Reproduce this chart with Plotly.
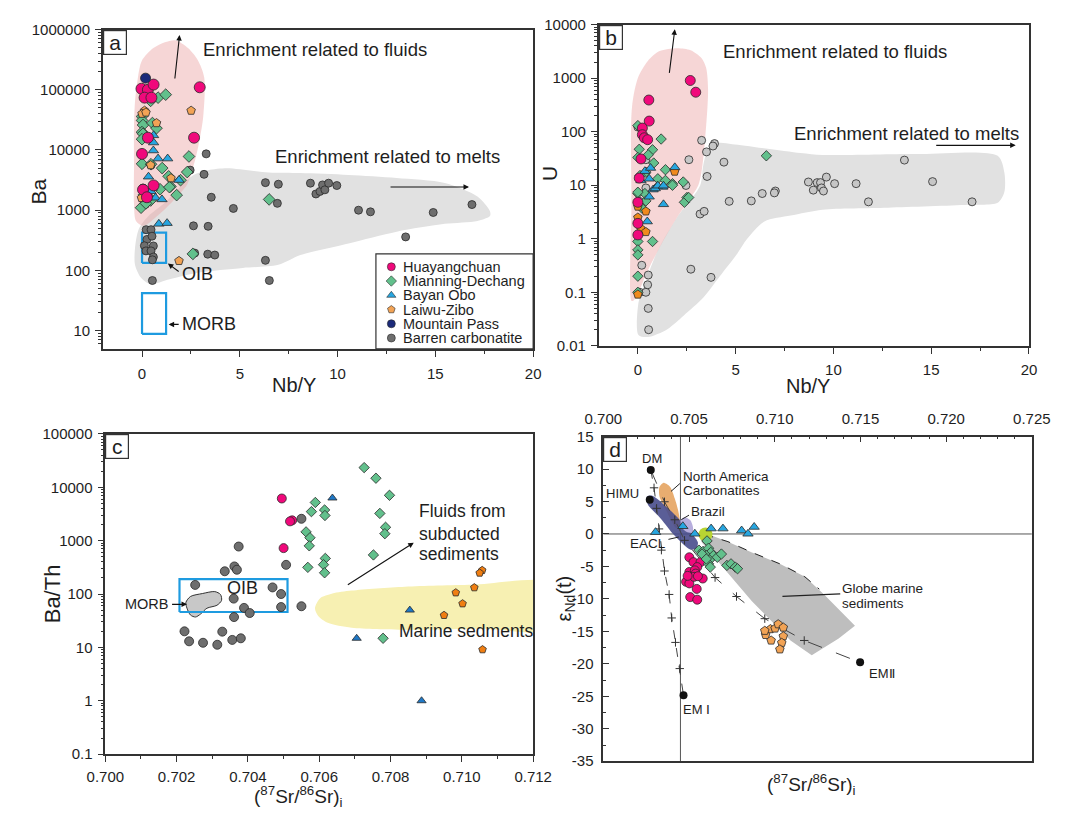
import numpy as np
import plotly.graph_objects as go

W, H = 1075, 814
FONT = "Arial, 'Liberation Sans', sans-serif"
TXT = "#1e1e1e"
AX = "#333333"

# ---------------- categories / legend ----------------
GROUPS = ["Huayangchuan", "Mianning-Dechang", "Bayan Obo", "Laiwu-Zibo",
          "Mountain Pass", "Barren carbonatite"]
SYMBOLS = ["circle", "diamond", "triangle-up", "pentagon", "circle", "circle"]
COLORS = ["#F0097B", "#62C08C", "#27A6E0", "#F2A355", "#1B2A7A", "#6E6E6E"]

# ---------------- panel a : Nb/Y vs Ba ----------------
a_hyc_x = [-0.03, 0.30, 0.59, 0.13, 0.48, 2.95, 0.30, 2.66, 0.00, 0.59, 0.05, 0.25]
a_hyc_y = [104000, 100000, 122000, 74000, 74000, 110000, 16000, 16000, 8600, 2580, 2190, 1640]
a_md_x = [0.44, 0.82, 1.21, 0.0, 0.0, 0.05, 0.0, 0.05, 0.0, 0.53, 0.74, 0.0, 0.46, 1.03,
          2.40, 2.31, 1.36, 1.97, 1.45, 0.92, 1.77, 0.38, 6.50, 2.60, -0.05, 0.44, 1.40, 0.2, 0.1]
a_md_y = [65500, 74000, 83000, 36000, 31000, 26000, 19800, 18600, 15100, 28000, 23000, 5900, 5800, 5000,
          7800, 4300, 3650, 3150, 2480, 2230, 1780, 1610, 1510, 188, 1100, 1450, 2420, 1300, 1800]
a_bo_x = [0.59, 0.59, 0.58, 0.82, 1.31, 0.33, 0.53, 0.69, 1.02, 0.86, 1.28, 0.46, 1.89]
a_bo_y = [17500, 13300, 9800, 7200, 7200, 3600, 2340, 1610, 1510, 593, 610, 2060, 3170]
a_lz_x = [0.13, 0.0, 2.51, 0.74, 0.44, 1.48, -0.03, 1.89, 0.2]
a_lz_y = [45000, 40000, 45000, 28000, 5600, 3400, 1600, 144, 42000]
a_mp_x = [0.18]
a_mp_y = [156000]
a_bar_x = [0.05, 0.46, 2.46, 3.28, 3.17, 3.54, 6.31, 0.17, 4.67, 2.63, 3.38, 2.69, 3.36, 3.72, 6.31,
           6.51, 0.53, 0.21, 0.46, 0.25, 0.51, 0.12, 0.58, 0.2, 0.46, 0.58, 0.53, 6.97, 6.92, 8.61,
           8.89, 9.1, 9.23, 9.35, 9.54, 9.96, 11.07, 11.68, 13.48, 14.89, 16.87]
a_bar_y = [2340, 5600, 4630, 8620, 3940, 1640, 2870, 1250, 1070, 550, 540, 194, 186, 180, 147,
           68, 68, 475, 475, 327, 370, 257, 255, 211, 211, 167, 150, 2700, 1300, 2810,
           1860, 2050, 2630, 2180, 2810, 2570, 1000, 940, 360, 917, 1240]
a_fluid_x = [1.71, 2.35, 2.84, 3.18, 3.13, 2.88, 2.64, 2.30, 1.56, 0.72, 0.08, -0.31, -0.41, -0.41,
             -0.41, -0.36, -0.21, -0.01, 0.58, 1.17, 1.71]
a_fluid_y = [663000, 492000, 314000, 160000, 36000, 11700, 5570, 2640, 1400, 771, 551, 664, 1250, 5570,
             24800, 63000, 160000, 303000, 492000, 615000, 663000]
a_melt_x = [2.63, 1.81, 1.07, 0.33, -0.16, -0.36, -0.36, -0.06, 0.43, 1.41, 2.89, 5.15, 6.97, 8.10,
            10.56, 13.02, 15.48, 17.15, 17.79, 17.79, 17.15, 15.48, 13.02, 10.56, 8.10, 6.48, 4.36, 3.38, 2.63]
a_melt_y = [3840, 2190, 1250, 800, 492, 233, 124, 76, 59, 71, 92, 110, 124, 180,
            281, 440, 593, 664, 800, 964, 1690, 2840, 3430, 3840, 4130, 4210, 4980, 4620, 3840]
a_oib_box = ([0.0, 1.23], [133, 424])
a_morb_box = ([0.0, 1.23], [8.8, 42])

# ---------------- panel b : Nb/Y vs U ----------------
b_hyc_x = [2.68, 2.96, 0.56, 0.58, 0.23, 0.23, 0.33, 0.5, 0.16, 0.07, 0.0, 0.0, 0.0]
b_hyc_y = [906, 547, 391, 158, 117, 88, 77, 71, 31, 13.6, 4.8, 1.94, 1.18]
b_bar_x = [0.0, 3.26, 3.92, 3.84, 3.51, 2.61, 4.4, 3.54, 0.41, 2.46, 4.67, 5.8, 6.36, 7.03, 6.98,
           0.41, 0.08, 3.18, 3.39, 2.71, 3.74, 0.2, 0.53, 0.5, 0.1, 0.41, 0.53, 0.55, 8.72, 8.97,
           9.17, 9.34, 9.39, 9.49, 9.64, 10.06, 11.16, 11.79, 13.63, 15.07, 17.09]
b_bar_y = [122, 69, 60, 54, 42, 30, 27, 14.6, 30, 9.9, 5, 5.1, 7, 7.8, 7.2,
           8.9, 5, 2.9, 3.25, 0.27, 0.19, 0.32, 0.21, 0.138, 0.1, 0.1, 0.05, 0.02, 11.5, 8.1,
           11.2, 11.2, 8.9, 7.8, 14.2, 10.7, 10.7, 4.9, 29.5, 11.7, 4.9]
b_md_x = [0.0, 1.19, 0.75, 0.53, 0.07, 0.0, 0.81, 0.41, 0.11, 1.02, 1.41, 1.41, 1.77, 2.32, 0.0,
          0.36, 2.51, 6.57, 0.0, 0.41, 0.2, 2.38, 2.6, 1.77, 0.0, 0.75, 0.0, 0.0, 0.0, 0.0]
b_md_y = [130, 73, 46, 37, 47, 33, 26, 17.5, 15.2, 13.2, 19.5, 12.3, 10.7, 11.5, 7,
          7, 5.9, 35.5, 7.4, 5.1, 3.75, 4.8, 5.9, 10, 0.89, 0.89, 0.62, 0.5, 0.2, 0.1]
b_bo_x = [0.36, 0.65, 0.16, 0.58, 0.99, 0.78, 1.27, 0.58, 1.31, 1.89, 0.89, 1.02, 1.31, 0.48]
b_bo_y = [18.3, 21, 12.3, 13.2, 9.6, 8.3, 9.3, 6.1, 4.4, 21.6, 8.7, 9.8, 9.8, 2.1]
b_lz_x = [1.88, 0.0, 0.0, 0.41, 0.15, 0.41, 0.0]
b_lz_y = [18, 4, 2.5, 3.25, 1.55, 1.34, 0.091]
b_fluid_x = [-0.30, 0.01, 0.51, 1.11, 2.0, 2.70, 3.25, 3.49, 3.59, 3.44, 3.25, 3.09, 2.70, 2.0, 1.21,
             0.51, 0.01, -0.23, -0.33, -0.33, -0.30]
b_fluid_y = [291, 1030, 2100, 3210, 3640, 3340, 2390, 1570, 594, 72, 17.3, 10, 5.8, 2.5, 0.8,
             0.256, 0.097, 0.0695, 0.0695, 4.3, 291]
b_melt_x = [0.03, 0.03, 0.51, 1.51, 2.35, 3.34, 4.19, 5.08, 5.58, 6.47, 7.81, 9.45, 12.78, 16.9, 18.4,
            18.74, 18.74, 18.4, 14.42, 9.45, 8.31, 4.83, 4.09, 3.59, 3.34, 3.19, 2.0, 1.01, 0.36, 0.03]
b_melt_y = [0.0638, 0.0159, 0.0146, 0.0205, 0.0369, 0.0788, 0.199, 0.525, 0.986, 2.1, 2.71, 3.49, 3.8, 4.3, 4.69,
            7.45, 17.3, 35.4, 38.5, 36.9, 40.2, 58.6, 61.2, 47.5, 23.2, 10, 2.5, 0.596, 0.148, 0.0638]

# ---------------- panel c : Sr isotope vs Ba/Th ----------------
c_bar_x = [0.70374, 0.70335, 0.70362, 0.70369, 0.70252, 0.7036, 0.70389, 0.70405, 0.70469, 0.70361,
           0.70222, 0.70235, 0.70274, 0.70314, 0.70328, 0.70356, 0.7038, 0.70493, 0.70493, 0.7055,
           0.70507, 0.7055]
c_bar_y = [776, 267, 329, 285, 148, 82, 55, 44, 133, 37,
           20, 13, 12.2, 11.2, 19.7, 13.8, 14.8, 100, 57, 59,
           352, 2570]
c_hyc_x = [0.70495, 0.70524, 0.70500, 0.70518]
c_hyc_y = [6170, 2400, 725, 2300]
c_md_x = [0.70726, 0.70759, 0.70797, 0.70589, 0.70578, 0.70615, 0.70616, 0.7077, 0.70563, 0.70574,
          0.70572, 0.70786, 0.70784, 0.70752, 0.70617, 0.70612, 0.70568, 0.70615, 0.70779]
c_md_y = [23400, 14800, 7080, 5200, 3500, 3760, 2960, 3240, 1460, 1135,
          800, 1780, 1350, 540, 465, 355, 316, 250, 14.8]
c_bo_x = [0.70637, 0.70705, 0.70854, 0.70887]
c_bo_y = [6300, 14.8, 50, 1.0]
c_lz_x = [0.71057, 0.7105, 0.71035, 0.70983, 0.71002, 0.7095, 0.71058]
c_lz_y = [278, 248, 132, 106, 66, 40, 9.1]
c_morb_x = [0.70226, 0.70239, 0.70272, 0.70307, 0.70323, 0.70326, 0.70313, 0.70285, 0.70267, 0.70253,
            0.70239, 0.70229, 0.70226]
c_morb_y = [69.8, 90, 102, 111, 98, 76, 61.5, 54.2, 42.1, 37.1, 40.3, 54.2, 69.8]
c_marine_x = [0.70588, 0.70602, 0.70637, 0.70691, 0.7084, 0.71029, 0.7126, 0.7126, 0.71057, 0.7084,
              0.70691, 0.70624, 0.70597, 0.70588]
c_marine_y = [54.2, 82.6, 102, 116, 137, 149, 156, 22.3, 22.3, 21.4, 23.3, 28.8, 38.6, 54.2]
c_oib_box = ([0.70208, 0.70511], [46, 190])

# ---------------- panel d : Sr isotope vs eNd(t) ----------------
d_hyc_x = [0.70502, 0.70526, 0.70567, 0.70548, 0.70502, 0.70534, 0.70539, 0.7058, 0.70483, 0.70502,
           0.7053, 0.70552, 0.70545, 0.70507, 0.70548, 0.70492]
d_hyc_y = [-3.59, -4.34, -4.34, -5.1, -5.85, -5.6, -6.1, -6.86, -7.36, -7.61,
           -6.6, -6.5, -8.46, -9.72, -10.12, -6.45]
d_md_x = [0.70605, 0.70558, 0.70582, 0.70614, 0.70627, 0.70601, 0.70642, 0.70576, 0.7062, 0.70665,
          0.70689, 0.70614, 0.70624, 0.70721, 0.70745, 0.7077, 0.70783, 0.70601]
d_md_y = [-1.07, -2.49, -2.68, -2.19, -2.84, -3.33, -3.33, -3.09, -4.0, -3.59,
          -3.09, -4.6, -5.1, -4.84, -4.6, -5.1, -5.35, -3.85]
d_bo_x = [0.70305, 0.70464, 0.70534, 0.70629, 0.70698, 0.70807, 0.70844, 0.7088]
d_bo_y = [0.28, 1.19, 0.03, 0.83, 0.83, 0.53, 0.03, 1.08]
d_lz_x = [0.70947, 0.70975, 0.71002, 0.7102, 0.7105, 0.70942, 0.70979, 0.7105, 0.71041, 0.7103]
d_lz_y = [-15.54, -14.64, -14.55, -13.89, -14.4, -14.9, -16.4, -15.75, -16.75, -17.76]
d_em_names = ["DM", "HIMU", "EM Ⅰ", "EMⅡ"]
d_em_x = [0.70277, 0.70271, 0.70468, 0.71498]
d_em_y = [9.87, 5.26, -24.85, -19.77]
d_mix1_x = [0.70277, 0.70296, 0.70311, 0.70325, 0.70339, 0.70357, 0.70384, 0.70399, 0.70421, 0.70446, 0.70468]
d_mix1_y = [9.87, 7.11, 3.95, 0.78, -2.49, -5.70, -9.31, -12.93, -16.70, -20.73, -24.85]
d_mix2_x = [0.70277, 0.70357, 0.70417, 0.70474, 0.70652, 0.70777, 0.70942, 0.71172, 0.71498]
d_mix2_y = [9.87, 4.96, 2.19, -0.98, -6.71, -9.63, -13.04, -16.40, -19.77]
d_globe_x = [0.70564, 0.70620, 0.70727, 0.70867, 0.71035, 0.71176, 0.71288, 0.71468, 0.71373, 0.71216,
             0.71092, 0.70980, 0.70867, 0.70755, 0.70642, 0.70575, 0.70564]
d_globe_y = [0.03, -0.12, -1.18, -2.84, -4.65, -6.6, -9.32, -14.14, -16.1, -18.66,
             -16.4, -13.39, -10.37, -6.9, -3.29, -1.33, 0.03]
d_globe_edge_x = [0.70590, 0.70727, 0.70867, 0.71035, 0.71176, 0.71260]
d_globe_edge_y = [-0.05, -1.18, -2.84, -4.65, -6.6, -8.5]
d_na_x = [0.70328, 0.7035, 0.70389, 0.70417, 0.70440, 0.70446, 0.70424, 0.70395, 0.70361, 0.70328, 0.70328]
d_na_y = [7.27, 7.87, 7.27, 5.46, 3.2, 1.39, 0.93, 2.14, 3.95, 5.76, 7.27]
d_eacl_x = [0.70254, 0.70283, 0.7039, 0.70490, 0.70552, 0.70541, 0.70507, 0.70417, 0.70333, 0.7026, 0.70254]
d_eacl_y = [5.76, 5.91, 3.65, 0.93, -1.33, -2.23, -2.38, -0.27, 2.44, 4.55, 5.76]
d_brazil_x = [0.70451, 0.70474, 0.70507, 0.70524, 0.70519, 0.70485, 0.70457, 0.70451]
d_brazil_y = [2.14, 2.59, 2.14, 0.93, 0.18, 0.33, 1.08, 2.14]
d_lime = ([0.70596], [-0.08])
d_bse_sr = 0.7045

# ---------------- tick labels ----------------
a_yticks = [10, 100, 1000, 10000, 100000, 1000000]
a_ytext = ["10", "100", "1000", "10000", "100000", "1000000"]
b_yticks = [0.01, 0.1, 1, 10, 100, 1000, 10000]
b_ytext = ["0.01", "0.1", "1", "10", "100", "1000", "10000"]
c_yticks = [0.1, 1, 10, 100, 1000, 10000, 100000]
c_ytext = ["0.1", "1", "10", "100", "1000", "10000", "100000"]
nby_ticks = [0, 5, 10, 15, 20]
nby_text = ["0", "5", "10", "15", "20"]
c_xticks = [0.700, 0.702, 0.704, 0.706, 0.708, 0.710, 0.712]
c_xtext = ["0.700", "0.702", "0.704", "0.706", "0.708", "0.710", "0.712"]
d_xticks = [0.700, 0.705, 0.710, 0.715, 0.720, 0.725]
d_xtext = ["0.700", "0.705", "0.710", "0.715", "0.720", "0.725"]
d_yticks = [15, 10, 5, 0, -5, -10, -15, -20, -25, -30, -35]
d_ytext = ["15", "10", "5", "0", "-5", "-10", "-15", "-20", "-25", "-30", "-35"]


# ---------------- helpers ----------------
def px(x):
    return x / W


def py(y):
    return 1 - y / H


def logminor(lo, hi):
    out = []
    for k in range(int(np.floor(lo)), int(np.ceil(hi))):
        for m in range(2, 10):
            v = m * 10.0 ** k
            if 10 ** lo <= v <= 10 ** hi:
                out.append(v)
    return out


def axis(dom, rng, tickvals, ticktext, minorvals, anchor, ticks="outside", typ="linear", side=None,
         standoff=2):
    d = dict(domain=dom, range=rng, type=typ, tickmode="array", tickvals=tickvals, ticktext=ticktext,
             ticks=ticks, ticklen=6, tickwidth=1.2, tickcolor=AX, showline=True, linecolor=AX,
             linewidth=1.6, mirror=True, showgrid=False, zeroline=False, anchor=anchor,
             ticklabelstandoff=standoff,
             tickfont=dict(size=15, color=TXT, family=FONT))
    if minorvals:
        d["minor"] = dict(tickmode="array", tickvals=minorvals, ticks=ticks, ticklen=3,
                          tickwidth=1, tickcolor=AX, showgrid=False)
    if side:
        d["side"] = side
    return d


fig = go.Figure()


def pts(x, y, gi, xa, ya, size, color=None):
    fig.add_trace(go.Scatter(x=x, y=y, mode="markers", xaxis=xa, yaxis=ya, hoverinfo="skip",
                             marker=dict(symbol=SYMBOLS[gi], size=size, color=color or COLORS[gi],
                                         line=dict(color="#2a2a2a", width=0.8))))


def region(x, y, xa, ya, fill, spline=True, line=None):
    fig.add_trace(go.Scatter(x=x, y=y, mode="lines", fill="toself", fillcolor=fill, xaxis=xa, yaxis=ya,
                             hoverinfo="skip",
                             line=dict(width=line[1] if line else 0, color=line[0] if line else fill,
                                       shape="spline" if spline else "linear", smoothing=0.8)))


def box(b, xa, ya, color="#1E9BE0"):
    (x0, x1), (y0, y1) = b
    fig.add_trace(go.Scatter(x=[x0, x1, x1, x0, x0], y=[y0, y0, y1, y1, y0], mode="lines",
                             xaxis=xa, yaxis=ya, hoverinfo="skip", line=dict(color=color, width=2.2)))


def line(x, y, xa, ya, color="#333", width=1.0, dash="solid"):
    fig.add_trace(go.Scatter(x=x, y=y, mode="lines", xaxis=xa, yaxis=ya, hoverinfo="skip",
                             line=dict(color=color, width=width, dash=dash)))


# ---------------- panel a ----------------
region(a_melt_x, a_melt_y, "x", "y", "#E1E1E1")
region(a_fluid_x, a_fluid_y, "x", "y", "rgba(236,165,165,0.45)")
box(a_oib_box, "x", "y")
box(a_morb_box, "x", "y")
pts(a_bar_x, a_bar_y, 5, "x", "y", 8)
pts(a_md_x, a_md_y, 1, "x", "y", 9)
pts(a_lz_x, a_lz_y, 3, "x", "y", 9)
pts(a_bo_x, a_bo_y, 2, "x", "y", 9)
pts(a_hyc_x, a_hyc_y, 0, "x", "y", 11)
pts(a_mp_x, a_mp_y, 4, "x", "y", 10)

# ---------------- panel b ----------------
region(b_melt_x, b_melt_y, "x2", "y2", "#E1E1E1")
region(b_fluid_x, b_fluid_y, "x2", "y2", "rgba(236,165,165,0.45)")
pts(b_bar_x, b_bar_y, 5, "x2", "y2", 8, "#C6C6C6")
pts(b_md_x, b_md_y, 1, "x2", "y2", 8)
pts(b_lz_x, b_lz_y, 3, "x2", "y2", 9, "#F08A1C")
pts(b_bo_x, b_bo_y, 2, "x2", "y2", 9)
pts(b_hyc_x, b_hyc_y, 0, "x2", "y2", 10)

# ---------------- panel c ----------------
region(c_marine_x, c_marine_y, "x3", "y3", "#F7F0B2")
region(c_morb_x, c_morb_y, "x3", "y3", "#C8C8C8", line=("#333", 1.0))
box(c_oib_box, "x3", "y3")
pts(c_bar_x, c_bar_y, 5, "x3", "y3", 9)
pts(c_hyc_x, c_hyc_y, 0, "x3", "y3", 9)
pts(c_md_x, c_md_y, 1, "x3", "y3", 8)
pts(c_bo_x, c_bo_y, 2, "x3", "y3", 8, "#1F78C6")
pts(c_lz_x, c_lz_y, 3, "x3", "y3", 8, "#F07E12")

# ---------------- panel d ----------------
region(d_globe_x, d_globe_y, "x4", "y4", "#BEBEBE", spline=False)
line(d_globe_edge_x, d_globe_edge_y, "x4", "y4", "#222", 1.0, "dash")
region(d_na_x, d_na_y, "x4", "y4", "#E8AD70")
region(d_eacl_x, d_eacl_y, "x4", "y4", "rgba(72,76,140,0.9)")
region(d_brazil_x, d_brazil_y, "x4", "y4", "#B7AEDD")
line(d_mix1_x, d_mix1_y, "x4", "y4", "#444", 1.0, "dash")
line(d_mix2_x, d_mix2_y, "x4", "y4", "#444", 1.0, "longdash")
for mx, my in ((d_mix1_x, d_mix1_y), (d_mix2_x, d_mix2_y)):
    fig.add_trace(go.Scatter(x=mx[1:-1], y=my[1:-1], mode="markers", xaxis="x4", yaxis="y4",
                             hoverinfo="skip",
                             marker=dict(symbol="cross-thin", size=6, line=dict(color="#333", width=1))))
fig.add_trace(go.Scatter(x=d_lime[0], y=d_lime[1], mode="markers", xaxis="x4", yaxis="y4", hoverinfo="skip",
                         marker=dict(size=14, color="#B8D432", line=dict(width=0))))
# leader lines
line([0.70395, 0.70447], [6.56, 7.77], "x4", "y4", "#222", 1.0)
line([0.70455, 0.70500], [2.2, 2.9], "x4", "y4", "#222", 1.0)
line([0.70380, 0.70440], [-0.83, -0.47], "x4", "y4", "#222", 1.0)
line([0.71045, 0.71382], [-9.62, -9.21], "x4", "y4", "#222", 1.2)
pts(d_hyc_x, d_hyc_y, 0, "x4", "y4", 9)
pts(d_md_x, d_md_y, 1, "x4", "y4", 8)
pts(d_bo_x, d_bo_y, 2, "x4", "y4", 9)
pts(d_lz_x, d_lz_y, 3, "x4", "y4", 9)
fig.add_trace(go.Scatter(x=d_em_x, y=d_em_y, mode="markers", xaxis="x4", yaxis="y4", hoverinfo="skip",
                         marker=dict(size=8, color="#111")))

# ---------------- custom legend (panel a) ----------------
LEG_X = [370, 533]
LEG_Y = [250, 347]
for i, g in enumerate(GROUPS):
    yy = 0.863 - i * 0.15
    fig.add_trace(go.Scatter(x=[0.098], y=[yy], mode="markers", xaxis="x5", yaxis="y5", hoverinfo="skip",
                             marker=dict(symbol=SYMBOLS[i], size=8, color=COLORS[i],
                                         line=dict(color="#2a2a2a", width=0.6))))

# ---------------- layout ----------------
DA = ([px(87), px(533)], [py(347), py(21)])
DB = ([px(601), px(1047)], [py(344), py(16)])
DC = ([px(89.5), px(533)], [py(761), py(434)])
DD = ([px(605.7), px(1050)], [py(768.3), py(436.7)])

layout = dict(
    width=W, height=H, margin=dict(l=0, r=0, t=0, b=0), autosize=False,
    paper_bgcolor="white", plot_bgcolor="rgba(0,0,0,0)", showlegend=False,
    font=dict(family=FONT, color=TXT),
    xaxis=axis(DA[0], [-2, 20], nby_ticks, nby_text, [2.5, 7.5, 12.5, 17.5], "y", standoff=4),
    yaxis=axis(DA[1], [np.log10(5), 6], a_yticks, a_ytext, logminor(np.log10(5), 6), "x", typ="log"),
    xaxis2=axis(DB[0], [-2, 20], nby_ticks, nby_text, [2.5, 7.5, 12.5, 17.5], "y2", standoff=3),
    yaxis2=axis(DB[1], [-2, 4], b_yticks, b_ytext, logminor(-2, 4), "x2", typ="log"),
    xaxis3=axis(DC[0], [0.700, 0.712], c_xticks, c_xtext,
                [round(0.701 + 0.002 * i, 3) for i in range(6)], "y3", standoff=2),
    yaxis3=axis(DC[1], [-1, 5], c_yticks, c_ytext, logminor(-1, 5), "x3", typ="log"),
    xaxis4=axis(DD[0], [0.700, 0.725], d_xticks, d_xtext,
                [round(0.700 + 0.001 * i, 3) for i in range(26) if i % 5], "y4", ticks="inside", side="top",
                standoff=5),
    yaxis4=axis(DD[1], [-35, 15], d_yticks, d_ytext, [12.5 - 5 * i for i in range(10)], "x4", ticks="inside",
                standoff=5),
    xaxis5=dict(domain=[px(LEG_X[0]), px(LEG_X[1])], range=[0, 1], visible=False, anchor="y5", fixedrange=True),
    yaxis5=dict(domain=[py(LEG_Y[1]), py(LEG_Y[0])], range=[0, 1], visible=False, anchor="x5", fixedrange=True),
)
fig.update_layout(**layout)

shapes = [
    dict(type="rect", xref="paper", yref="paper", x0=px(LEG_X[0]), x1=px(LEG_X[1]), y0=py(LEG_Y[1]),
         y1=py(LEG_Y[0]), line=dict(color=AX, width=1.2), fillcolor="white", layer="below"),
    dict(type="line", xref="x4", yref="y4", x0=d_bse_sr, x1=d_bse_sr, y0=-35, y1=15,
         line=dict(color="#555", width=1), layer="below"),
    dict(type="line", xref="x4", yref="y4", x0=0.700, x1=0.725, y0=0, y1=0,
         line=dict(color="#555", width=1), layer="below"),
]
fig.update_layout(shapes=shapes)

ann = []


def text(t, x, y, xref, yref, size, xanchor="left", yanchor="middle", angle=0, logy=False, color=TXT):
    ann.append(dict(text=t, x=x, y=np.log10(y) if logy else y, xref=xref, yref=yref, showarrow=False,
                    xanchor=xanchor, yanchor=yanchor, textangle=angle,
                    font=dict(size=size, color=color, family=FONT)))


def arrow(x0, y0, x1, y1, xref, yref, logy=False, head=2):
    if logy:
        y0, y1 = np.log10(y0), np.log10(y1)
    ann.append(dict(text="", x=x1, y=y1, ax=x0, ay=y0, xref=xref, yref=yref, axref=xref, ayref=yref,
                    showarrow=True, arrowhead=head, arrowsize=1, arrowwidth=1.1, arrowcolor="#111",
                    standoff=0, startstandoff=0))


# panel a texts
text("Enrichment related to fluids", 3.03, 474000, "x", "y", 18.5, logy=True)
text("Enrichment related to melts", 6.72, 7800, "x", "y", 18.5, logy=True)
text("OIB", 1.96, 88, "x", "y", 18, logy=True)
text("MORB", 1.96, 12.7, "x", "y", 18, logy=True)
arrow(1.67, 145000, 1.92, 813000, "x", "y", logy=True)
arrow(12.63, 2430, 16.72, 2430, "x", "y", logy=True)
arrow(1.95, 92, 1.32, 130, "x", "y", logy=True)
arrow(1.95, 12.7, 1.36, 12.7, "x", "y", logy=True)
# panel b texts
text("Enrichment related to fluids", 4.25, 3160, "x2", "y2", 18.5, logy=True)
text("Enrichment related to melts", 7.9, 94.4, "x2", "y2", 18.5, logy=True)
arrow(1.6, 1180, 1.89, 8200, "x2", "y2", logy=True)
arrow(15.18, 55.6, 19.32, 55.6, "x2", "y2", logy=True)
# panel c texts
text("OIB", 0.70335, 128, "x3", "y3", 18, logy=True)
text("MORB", 0.70183, 64, "x3", "y3", 14.5, xanchor="right", logy=True)
arrow(0.70183, 64, 0.70229, 64, "x3", "y3", logy=True)
text("Fluids from", 0.70875, 3550, "x3", "y3", 17.5, logy=True)
text("subducted", 0.70875, 1360, "x3", "y3", 17.5, logy=True)
text("sediments", 0.70875, 553, "x3", "y3", 17.5, logy=True)
arrow(0.70676, 143, 0.70865, 918, "x3", "y3", logy=True)
text("Marine sedments", 0.70818, 20.5, "x3", "y3", 17.5, logy=True)
# panel d texts
text(d_em_names[0], 0.70283, 11.64, "x4", "y4", 13, xanchor="center")
text(d_em_names[1], 0.70221, 6.21, "x4", "y4", 13, xanchor="right")
text(d_em_names[2], 0.70455, -26.96, "x4", "y4", 13)
text(d_em_names[3], 0.71541, -21.42, "x4", "y4", 13)
text("North America", 0.70455, 8.82, "x4", "y4", 13.5)
text("Carbonatites", 0.70455, 6.71, "x4", "y4", 13.5)
text("Brazil", 0.70502, 3.45, "x4", "y4", 13.5)
text("EACL", 0.70378, -1.48, "x4", "y4", 13.5, xanchor="right")
text("Globe marine", 0.71382, -8.37, "x4", "y4", 13.5)
text("sediments", 0.71382, -10.63, "x4", "y4", 13.5)

# legend texts
for i, g in enumerate(GROUPS):
    text(g, 0.16, 0.863 - i * 0.15, "x5", "y5", 14.5)

# axis titles
text("Nb/Y", px(285), py(384), "paper", "paper", 20, xanchor="center")
text("Nb/Y", px(818), py(385), "paper", "paper", 20, xanchor="center")
text("Ba", px(20), py(186), "paper", "paper", 21, xanchor="center", angle=-90)
text("U", px(550), py(168), "paper", "paper", 21, xanchor="center", angle=-90)
text("Ba/Th", px(35), py(597), "paper", "paper", 22, xanchor="center", angle=-90)
text("(<sup>87</sup>Sr/<sup>86</sup>Sr)<sub>i</sub>", px(290), py(804), "paper", "paper", 19, xanchor="center")
text("(<sup>87</sup>Sr/<sup>86</sup>Sr)<sub>i</sub>", px(822), py(792), "paper", "paper", 19, xanchor="center")
text("ε<sub>Nd</sub>(t)", px(566), py(602), "paper", "paper", 20, xanchor="center", angle=-90)

# panel letters
for lab, (x0, y0) in zip(["a", "b", "c", "d"], [(87, 21), (601, 16), (89.5, 434), (605.7, 436.7)]):
    ann.append(dict(text=lab, x=px(x0), y=py(y0), xref="paper", yref="paper", showarrow=False,
                    xanchor="left", yanchor="top", width=22, height=23, bgcolor="white",
                    bordercolor=AX, borderwidth=1.2, borderpad=0,
                    font=dict(size=21, color=TXT, family=FONT)))

fig.update_layout(annotations=ann)
fig.write_html(
    "out.html",
    config={"displayModeBar": False},
    post_script="document.body.style.margin='0';document.body.style.padding='0';"
                "document.body.style.overflow='hidden';",
)
